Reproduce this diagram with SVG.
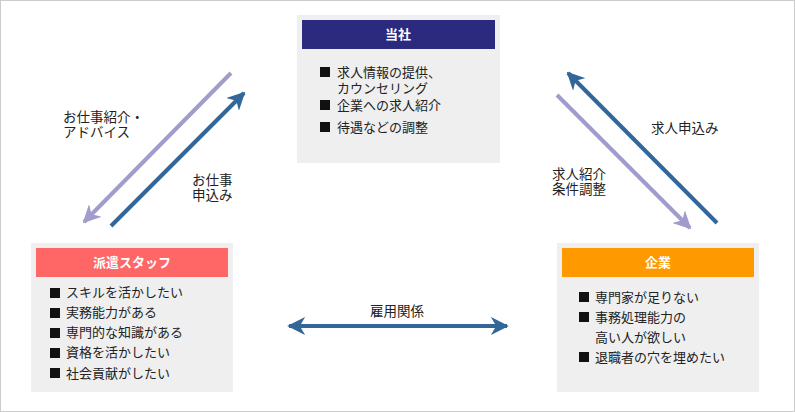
<svg xmlns="http://www.w3.org/2000/svg" width="795" height="412" viewBox="0 0 795 412">
<style>
text{font-family:"Noto Sans CJK JP","Liberation Sans",sans-serif;font-size:13px;fill:#222}
.hd{fill:#fff;text-anchor:middle;font-size:13px;font-weight:bold}
.box{fill:#efefef}
.b{fill:#111}
.lb{font-size:13.5px}
</style>
<defs>
<marker id="hb" viewBox="0 0 10 10" refX="9" refY="5" markerWidth="4.5" markerHeight="4.5" orient="auto-start-reverse" markerUnits="strokeWidth"><path d="M0,0L10,5L0,10L3,5z" fill="#336699"/></marker>
<marker id="hp" viewBox="0 0 10 10" refX="9" refY="5" markerWidth="4.5" markerHeight="4.5" orient="auto-start-reverse" markerUnits="strokeWidth"><path d="M0,0L10,5L0,10L3,5z" fill="#a09ccc"/></marker>
</defs>
<rect x="0.5" y="0.5" width="794" height="411" fill="#fff" stroke="#ccc"/>
<g id="touSha">
<rect class="box" x="297" y="15" width="203" height="148"/>
<rect x="302" y="20" width="193" height="29" fill="#2b2a7e"/>
<text class="hd" x="398" y="39">当社</text>
<rect class="b" x="320" y="67" width="10" height="10"/><text x="337" y="77">求人情報の提供、</text>
<text x="337" y="93">カウンセリング</text>
<rect class="b" x="320" y="100" width="10" height="10"/><text x="337" y="110">企業への求人紹介</text>
<rect class="b" x="320" y="122" width="10" height="10"/><text x="337" y="132">待遇などの調整</text>
</g>
<g id="haken">
<rect class="box" x="31" y="243" width="202" height="149"/>
<rect x="36" y="248" width="192" height="29" fill="#ff6666"/>
<text class="hd" x="132" y="267">派遣スタッフ</text>
<rect class="b" x="50" y="288" width="10" height="10"/><text x="66" y="297">スキルを活かしたい</text>
<rect class="b" x="50" y="308" width="10" height="10"/><text x="66" y="317">実務能力がある</text>
<rect class="b" x="50" y="328" width="10" height="10"/><text x="66" y="337">専門的な知識がある</text>
<rect class="b" x="50" y="348" width="10" height="10"/><text x="66" y="357">資格を活かしたい</text>
<rect class="b" x="50" y="368" width="10" height="10"/><text x="66" y="378">社会貢献がしたい</text>
</g>
<g id="kigyou">
<rect class="box" x="557" y="243" width="202" height="149"/>
<rect x="562" y="248" width="192" height="29" fill="#ff9900"/>
<text class="hd" x="658" y="267">企業</text>
<rect class="b" x="579" y="292" width="10" height="10"/><text x="595" y="302">専門家が足りない</text>
<rect class="b" x="579" y="312" width="10" height="10"/><text x="595" y="322">事務処理能力の</text>
<text x="595" y="342">高い人が欲しい</text>
<rect class="b" x="579" y="352" width="10" height="10"/><text x="595" y="362">退職者の穴を埋めたい</text>
</g>
<g id="connectors">
<line x1="231" y1="73" x2="84" y2="222" stroke="#a09ccc" stroke-width="4" marker-end="url(#hp)"/>
<line x1="111" y1="226" x2="244" y2="93" stroke="#336699" stroke-width="4" marker-end="url(#hb)"/>
<line x1="717" y1="223" x2="568" y2="73" stroke="#336699" stroke-width="4" marker-end="url(#hb)"/>
<line x1="557" y1="95" x2="690" y2="228" stroke="#a09ccc" stroke-width="4" marker-end="url(#hp)"/>
<line x1="289" y1="326" x2="507" y2="326" stroke="#336699" stroke-width="4" marker-start="url(#hb)" marker-end="url(#hb)"/>
<text class="lb" x="63" y="122">お仕事紹介・</text>
<text class="lb" x="63" y="137">アドバイス</text>
<text class="lb" x="192" y="185">お仕事</text>
<text class="lb" x="192" y="200">申込み</text>
<text class="lb" x="651" y="133">求人申込み</text>
<text class="lb" x="552" y="179">求人紹介</text>
<text class="lb" x="552" y="194">条件調整</text>
<text class="lb" x="397" y="316" text-anchor="middle">雇用関係</text>
</g>
</svg>
